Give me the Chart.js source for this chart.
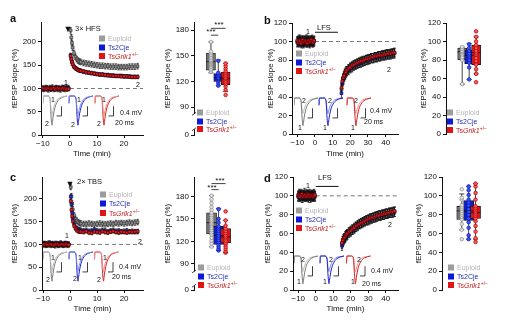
<!DOCTYPE html>
<html>
<head>
<meta charset="utf-8">
<script src="https://cdn.jsdelivr.net/npm/chart.js@4.4.1/dist/chart.umd.min.js"></script>
<style>
body{margin:0;background:#fff;width:512px;height:324px;position:relative;overflow:hidden;font-family:"Liberation Sans",Arial,sans-serif;color:#111}
canvas{position:absolute}
.t{position:absolute;white-space:nowrap;font-size:7px;line-height:1;transform:translateY(-50%)}
.c{transform:translate(-50%,-50%)}
.lt{position:absolute;font-size:11px;font-weight:bold;line-height:1;transform:translateY(-50%)}
.lg{position:absolute;white-space:nowrap;font-size:7px;line-height:1;transform:translateY(-50%);display:flex;align-items:center}
.lg b{display:inline-block;width:6px;height:6px;margin-right:3px}
.e{color:#b4b4b4}.s{color:#2430b4}.g{color:#c41d1d}
sup{font-size:5px;vertical-align:3px}
</style>
</head>
<body>
<canvas id="tcA" width="150" height="165" style="left:0;top:0"></canvas>
<canvas id="bxA" width="100" height="165" style="left:150px;top:0"></canvas>
<canvas id="tcB" width="150" height="165" style="left:256px;top:0"></canvas>
<canvas id="bxB" width="100" height="165" style="left:400px;top:0"></canvas>
<canvas id="tcC" width="150" height="165" style="left:0;top:155px"></canvas>
<canvas id="bxC" width="100" height="165" style="left:150px;top:155px"></canvas>
<canvas id="tcD" width="150" height="165" style="left:256px;top:155px"></canvas>
<canvas id="bxD" width="104" height="165" style="left:396px;top:155px"></canvas>
<canvas id="inA" width="100" height="40" style="left:43px;top:92px"></canvas>
<canvas id="inB" width="110" height="40" style="left:294px;top:94px"></canvas>
<canvas id="inC" width="100" height="40" style="left:43px;top:248px"></canvas>
<canvas id="inD" width="110" height="40" style="left:294px;top:252px"></canvas>

<div class="lt" style="left:10px;top:18px">a</div>
<div class="lt" style="left:264px;top:20px">b</div>
<div class="lt" style="left:10px;top:177px">c</div>
<div class="lt" style="left:264px;top:178px">d</div>

<!-- annotations -->
<div class="t c" style="left:68px;top:29px;font-size:9px">▼</div>
<div class="t" style="left:75px;top:29px;font-size:7.5px">3× HFS</div>
<div class="t c" style="left:70px;top:184px;font-size:9px">▼</div>
<div class="t" style="left:77px;top:182px;font-size:7.5px">2× TBS</div>
<div class="t c" style="left:324px;top:28px;font-size:7.5px">LFS</div>
<div class="t c" style="left:325px;top:178px;font-size:7.5px">LFS</div>

<div class="t c" style="left:219px;top:25px;font-size:8px">***</div>
<div class="t c" style="left:211px;top:32px;font-size:8px">***</div>
<div class="t c" style="left:220px;top:181px;font-size:8px">***</div>
<div class="t c" style="left:212px;top:188px;font-size:8px">***</div>

<!-- time course 1/2 labels -->
<div class="t c" style="left:66px;top:82px">1</div>
<div class="t c" style="left:138px;top:84px">2</div>
<div class="t c" style="left:308px;top:31px">1</div>
<div class="t c" style="left:389px;top:69px">2</div>
<div class="t c" style="left:67px;top:235px">1</div>
<div class="t c" style="left:140px;top:241px">2</div>
<div class="t c" style="left:308px;top:185px">1</div>
<div class="t c" style="left:390px;top:224px">2</div>

<!-- trace labels -->
<div class="t c" style="left:53px;top:99px">1</div><div class="t c" style="left:47px;top:123px">2</div>
<div class="t c" style="left:79px;top:99px">1</div><div class="t c" style="left:73px;top:124px">2</div>
<div class="t c" style="left:104px;top:99px">1</div><div class="t c" style="left:99px;top:123px">2</div>
<div class="t" style="left:120px;top:112px">0.4 mV</div>
<div class="t" style="left:115px;top:122px">20 ms</div>

<div class="t c" style="left:304px;top:100px">2</div><div class="t c" style="left:300px;top:127px">1</div>
<div class="t c" style="left:330px;top:100px">2</div><div class="t c" style="left:325px;top:127px">1</div>
<div class="t c" style="left:356px;top:100px">2</div><div class="t c" style="left:353px;top:127px">1</div>
<div class="t" style="left:370px;top:110px">0.4 mV</div>
<div class="t" style="left:364px;top:121px">20 ms</div>

<div class="t c" style="left:53px;top:257px">1</div><div class="t c" style="left:48px;top:279px">2</div>
<div class="t c" style="left:80px;top:257px">1</div><div class="t c" style="left:75px;top:278px">2</div>
<div class="t c" style="left:105px;top:257px">1</div><div class="t c" style="left:99px;top:279px">2</div>
<div class="t" style="left:119px;top:266px">0.4 mV</div>
<div class="t" style="left:112px;top:276px">20 ms</div>

<div class="t c" style="left:303px;top:259px">2</div><div class="t c" style="left:299px;top:281px">1</div>
<div class="t c" style="left:331px;top:259px">2</div><div class="t c" style="left:325px;top:281px">1</div>
<div class="t c" style="left:359px;top:259px">2</div><div class="t c" style="left:353px;top:281px">1</div>
<div class="t" style="left:371px;top:270px">0.4 mV</div>
<div class="t" style="left:362px;top:283px">20 ms</div>

<!-- legends -->
<div class="lg" style="left:99px;top:38px"><b style="background:#9c9c9c"></b><span class="e">Euploid</span></div>
<div class="lg" style="left:99px;top:47px"><b style="background:#0d18d8"></b><span class="s">Ts2Cje</span></div>
<div class="lg" style="left:99px;top:56px"><b style="background:#e01414"></b><span class="g">Ts<i>Grik1</i><sup>+/−</sup></span></div>

<div class="lg" style="left:197px;top:112px"><b style="background:#9c9c9c"></b><span class="e">Euploid</span></div>
<div class="lg" style="left:197px;top:121px"><b style="background:#0d18d8"></b><span class="s">Ts2Cje</span></div>
<div class="lg" style="left:197px;top:129px"><b style="background:#e01414"></b><span class="g">Ts<i>Grik1</i><sup>+/−</sup></span></div>

<div class="lg" style="left:296px;top:53px"><b style="background:#9c9c9c"></b><span class="e">Euploid</span></div>
<div class="lg" style="left:296px;top:62px"><b style="background:#0d18d8"></b><span class="s">Ts2Cje</span></div>
<div class="lg" style="left:296px;top:71px"><b style="background:#e01414"></b><span class="g">Ts<i>Grik1</i><sup>+/−</sup></span></div>

<div class="lg" style="left:447px;top:112px"><b style="background:#9c9c9c"></b><span class="e">Euploid</span></div>
<div class="lg" style="left:447px;top:121px"><b style="background:#0d18d8"></b><span class="s">Ts2Cje</span></div>
<div class="lg" style="left:447px;top:130px"><b style="background:#e01414"></b><span class="g">Ts<i>Grik1</i><sup>+/−</sup></span></div>

<div class="lg" style="left:100px;top:194px"><b style="background:#9c9c9c"></b><span class="e">Euploid</span></div>
<div class="lg" style="left:100px;top:203px"><b style="background:#0d18d8"></b><span class="s">Ts2Cje</span></div>
<div class="lg" style="left:100px;top:213px"><b style="background:#e01414"></b><span class="g">Ts<i>Grik1</i><sup>+/−</sup></span></div>

<div class="lg" style="left:198px;top:267px"><b style="background:#9c9c9c"></b><span class="e">Euploid</span></div>
<div class="lg" style="left:198px;top:276px"><b style="background:#0d18d8"></b><span class="s">Ts2Cje</span></div>
<div class="lg" style="left:198px;top:285px"><b style="background:#e01414"></b><span class="g">Ts<i>Grik1</i><sup>+/−</sup></span></div>

<div class="lg" style="left:296px;top:210px"><b style="background:#9c9c9c"></b><span class="e">Euploid</span></div>
<div class="lg" style="left:296px;top:219px"><b style="background:#0d18d8"></b><span class="s">Ts2Cje</span></div>
<div class="lg" style="left:296px;top:228px"><b style="background:#e01414"></b><span class="g">Ts<i>Grik1</i><sup>+/−</sup></span></div>

<div class="lg" style="left:448px;top:267px"><b style="background:#9c9c9c"></b><span class="e">Euploid</span></div>
<div class="lg" style="left:448px;top:276px"><b style="background:#0d18d8"></b><span class="s">Ts2Cje</span></div>
<div class="lg" style="left:448px;top:285px"><b style="background:#e01414"></b><span class="g">Ts<i>Grik1</i><sup>+/−</sup></span></div>

<script>
// ---- time axes (min) ----
const timeLTP = [-10,-9.5,-9,-8.5,-8,-7.5,-7,-6.5,-6,-5.5,-5,-4.5,-4,-3.5,-3,-2.5,-2,-1.5,-1,-0.5,
  0.25,0.5,0.75,1,1.5,2,2.5,3,3.5,4,5,6,7,8,9,10,11,12,13,14,15,16,17,18,19,20,21,22,23,24,25];
const timeLTD = [-10,-9.5,-9,-8.5,-8,-7.5,-7,-6.5,-6,-5.5,-5,-4.5,-4,-3.5,-3,-2.5,-2,-1.5,-1,-0.5,
  15,15.5,16,16.5,17,17.5,18,19,20,21,22,23,24,25,26,27,28,29,30,31,32,33,34,35,36,37,38,39,40,41,42,43,44,45];

// ---- panel a: 3x HFS (fEPSP slope %) ----
const euploidA = [100,99,101,100,98,101,100,102,99,100,101,99,100,98,101,100,99,102,100,101,
  225,210,198,188,176,168,163,160,158,157,155,154,153,152,151,150,149,149,148,148,147,147,147,146,146,146,146,147,147,147,148];
const ts2cjeA = [99,101,100,102,99,100,98,101,100,99,102,100,101,99,100,103,100,99,101,100,
  172,164,158,153,147,144,142,140,139,138,136,135,134,133,132,131,130,130,129,129,128,128,127,127,127,126,126,126,125,125,125];
const tsgrikA = [101,99,100,99,101,100,99,100,101,98,100,101,99,100,99,101,100,98,100,99,
  170,163,157,152,147,144,142,140,139,138,137,135,134,133,132,131,130,130,129,128,128,127,127,127,126,126,126,125,125,125,125];
const semA = [6, 4, 3];

// ---- panel b: LFS ----
const euploidB = [100,101,99,102,100,98,101,100,99,101,102,100,99,101,98,100,101,99,100,101,
  48,56,60,63,65,67,68,70,72,73,74,75,76,77,78,79,79,80,81,81,82,82,83,83,84,84,85,85,85,86,86,86,87,87];
const ts2cjeB = [99,100,102,100,101,99,100,98,101,100,99,102,101,100,99,101,100,102,99,100,
  44,54,59,62,64,66,68,69,71,72,74,75,76,77,77,78,79,80,80,81,82,82,83,83,84,84,85,85,86,86,86,87,87,88];
const tsgrikB = [101,99,100,101,98,100,102,99,100,101,100,98,100,101,99,100,102,100,99,101,
  50,57,61,63,66,67,69,71,72,74,75,76,77,78,79,79,80,81,81,82,83,83,84,84,85,85,85,86,86,87,87,87,88,88];
const semB = [5, 5, 4];

// ---- panel c: 2x TBS ----
const euploidC = [101,100,99,100,102,100,99,101,100,98,101,100,99,101,100,99,100,101,99,100,
  226,206,190,177,164,156,152,149,147,146,145,145,146,145,144,145,146,145,144,145,146,145,147,146,147,146,147,148,147,148,149];
const ts2cjeC = [100,102,101,99,100,103,101,100,99,102,100,98,101,103,100,99,102,100,101,100,
  205,188,170,157,145,138,135,133,132,131,130,131,129,130,132,130,129,131,130,128,130,131,129,130,128,129,130,128,129,128,128];
const tsgrikC = [99,100,101,100,99,101,100,99,98,100,101,100,99,100,101,100,99,101,100,99,
  195,176,162,151,141,135,131,129,128,128,127,129,126,125,128,127,126,129,127,126,128,129,127,126,128,127,126,128,127,128,129];
const semC = [6, 5, 4];

// ---- panel d: LFS ----
const euploidD = [100,102,99,101,100,98,101,103,100,99,101,100,98,102,100,99,101,100,102,99,
  49,52,54,55,57,58,59,61,63,64,66,67,69,70,71,72,73,74,75,76,76,77,78,78,79,79,80,80,81,81,82,82,83,83];
const ts2cjeD = [99,101,100,102,98,100,101,99,100,102,100,99,101,100,98,101,100,99,101,100,
  47,51,53,55,56,58,59,61,62,64,65,67,68,70,71,72,73,74,74,75,76,77,77,78,79,79,80,80,81,81,82,82,82,83];
const tsgrikD = [101,100,99,101,102,100,99,100,101,99,100,102,101,99,100,101,100,99,100,101,
  50,53,55,56,58,59,60,62,63,65,66,68,69,70,71,72,73,74,75,76,77,77,78,79,79,80,80,81,81,82,82,83,83,84];
const semD = [5, 5, 4];

// ---- box plots: quartiles, whiskers, individual slices ----
const q1A = [133, 120, 116], medA = [143, 124, 123], q3A = [153, 129, 131], loA = [130, 115, 108], hiA = [166, 145, 141];
const ptsA = [[131,133,135,137,139,140,141,142,143,144,145,147,149,151,153,155,166],
  [115,118,121,123,124,126,128,130,144],
  [104,110,114,117,119,121,123,124,126,128,130,132,135,138,141]];
const q1B = [80, 76, 75], medB = [89, 85, 88], q3B = [93, 91, 96], loB = [54, 59, 65], hiB = [94, 98, 105];
const ptsB = [[54,80,83,86,88,89,90,92,94],
  [59,72,77,80,83,85,87,90,93,97],
  [56,65,70,75,79,82,86,88,90,93,96,100,105,111]];
const q1C = [130, 116, 118], medC = [145, 128, 126], q3C = [158, 140, 137], loC = [113, 108, 105], hiC = [181, 164, 148];
const ptsC = [[113,117,121,125,129,132,135,138,141,143,145,147,149,152,155,158,162,166,171,176,181],
  [108,110,113,116,119,122,125,128,131,134,137,140,145,150,163],
  [105,107,110,113,116,118,121,124,126,128,131,134,137,141,148,160]];
const q1D = [75, 74, 76], medD = [84, 84, 82], q3D = [89, 95, 89], loD = [64, 54, 54], hiD = [102, 110, 113];
const ptsD = [[54,64,70,75,78,80,82,84,86,88,90,96,98,107],
  [54,58,66,72,76,80,83,86,90,93,96,101,106,110],
  [51,55,62,68,73,76,79,81,83,85,87,89,96,103,110,113]];
const sigA = [[1, 2, 174], [1, 3, 182]];
const sigC = [[1, 2, 189], [1, 3, 197]];

// ---- example fEPSP traces (ms, mV) ----
const traceMs = [0, 1.5, 3, 20, 28, 31, 34, 36, 38, 41, 45, 50, 56, 63, 72, 84, 96];
const ltpTrace1 = [-0.3,0,0,0,-0.08,-0.4,-0.72,-0.8,-0.7,-0.55,-0.4,-0.27,-0.17,-0.1,-0.05,-0.02,0];
const ltpTrace2 = [-0.3,0,0,0,-0.12,-0.65,-1.08,-1.2,-1.05,-0.82,-0.6,-0.4,-0.26,-0.15,-0.08,-0.03,0];
const ltdTrace1 = [-0.3,0,0,0,-0.12,-0.62,-1.02,-1.14,-1.0,-0.78,-0.57,-0.38,-0.25,-0.15,-0.08,-0.03,0];
const ltdTrace2 = [-0.3,0,0,0,-0.08,-0.36,-0.58,-0.64,-0.56,-0.44,-0.32,-0.22,-0.14,-0.08,-0.04,-0.02,0];

// Styles
const FONT = '"Liberation Sans", Arial, sans-serif';
const tickFont = {family: FONT, size: 8};
const markFill = ['#8e8e8e', '#1f2fd6', '#e02020'];
const markEdge = ['#2a2a2a', '#0b0b60', '#4a0000'];
const boxFill = ['#707070', '#1020c8', '#d81818'];
const dotFill = ['#e2e2e2', '#3a55ff', '#ff5a5a'];
const dotEdge = ['#8a8a8a', '#0a14a0', '#a80000'];
const traceDark = ['#777777', '#1a22c8', '#d41e1e'];
const traceLight = ['#bdbdbd', '#8088e6', '#ee8e8e'];

const fmt = v => v < 0 ? '\u2212' + (-v) : String(v);

function yAxis(o) {
  return {
    min: o.ymin, max: o.ymax,
    afterFit: s => { s.width = o.yw; },
    afterBuildTicks: s => { s.ticks = o.yticks.map(v => ({value: v})); },
    ticks: {font: tickFont, color: '#111', padding: 2, autoSkip: false, callback: o.ylab || fmt},
    grid: {drawOnChartArea: false, tickLength: 3, color: '#111'},
    border: {color: '#111', width: 1},
    title: {display: true, text: 'fEPSP slope (%)', font: tickFont, color: '#111', padding: {top: o.tp, bottom: 0}}
  };
}

// error bars drawn just before each series
const errorBars = {
  id: 'errorBars',
  beforeDatasetDraw(chart, args) {
    const ds = chart.data.datasets[args.index];
    if (ds.sem == null) return;
    const y = chart.scales.y, ctx = chart.ctx;
    ctx.save();
    ctx.strokeStyle = '#111'; ctx.lineWidth = 0.7;
    ctx.beginPath();
    args.meta.data.forEach((el, k) => {
      const v = ds.data[k].y;
      const a = y.getPixelForValue(v + ds.sem), b = y.getPixelForValue(v - ds.sem);
      ctx.moveTo(el.x, a); ctx.lineTo(el.x, b);
      ctx.moveTo(el.x - 1.2, a); ctx.lineTo(el.x + 1.2, a);
      ctx.moveTo(el.x - 1.2, b); ctx.lineTo(el.x + 1.2, b);
    });
    ctx.stroke(); ctx.restore();
  }
};

function timeCourse(id, times, series, sem, o) {
  const extras = {
    id: 'extras',
    beforeDatasetsDraw(chart) {
      const {x, y} = chart.scales, ctx = chart.ctx;
      ctx.save();
      ctx.strokeStyle = '#777'; ctx.lineWidth = 1; ctx.setLineDash([4, 3]);
      ctx.beginPath();
      ctx.moveTo(x.getPixelForValue(0), y.getPixelForValue(100));
      ctx.lineTo(x.getPixelForValue(o.xmax), y.getPixelForValue(100));
      ctx.stroke();
      if (o.lfs) {
        ctx.setLineDash([]); ctx.strokeStyle = '#111';
        ctx.beginPath();
        ctx.moveTo(x.getPixelForValue(o.lfs[0]), y.getPixelForValue(o.lfs[2]));
        ctx.lineTo(x.getPixelForValue(o.lfs[1]), y.getPixelForValue(o.lfs[2]));
        ctx.stroke();
      }
      ctx.restore();
    }
  };
  new Chart(document.getElementById(id), {
    type: 'scatter',
    data: {datasets: series.map((vals, i) => ({
      data: times.map((t, k) => ({x: t, y: vals[k]})),
      pointStyle: 'rect', pointRadius: 2, borderWidth: 0.6,
      backgroundColor: markFill[i], borderColor: markEdge[i],
      order: 3 - i, sem: sem[i]
    }))},
    options: {
      animation: false, responsive: false, events: [],
      layout: {padding: {top: o.top, right: o.right, left: 0, bottom: 0}},
      plugins: {legend: {display: false}, tooltip: {enabled: false}},
      scales: {
        x: {
          type: 'linear', min: o.xmin, max: o.xmax,
          afterFit: s => { s.height = o.xh; },
          afterBuildTicks: s => { s.ticks = o.xticks.map(v => ({value: v})); },
          ticks: {font: tickFont, color: '#111', padding: 1, autoSkip: false, maxRotation: 0, callback: fmt},
          grid: {drawOnChartArea: false, tickLength: 3, color: '#111'},
          border: {color: '#111', width: 1},
          title: {display: true, text: 'Time (min)', font: tickFont, color: '#111', padding: {top: 0, bottom: o.xtp}}
        },
        y: yAxis(o)
      }
    },
    plugins: [errorBars, extras]
  });
}

function boxPlot(id, q1, med, q3, lo, hi, pts, o) {
  const extras = {
    id: 'boxExtras',
    afterDatasetDraw(chart, args) {
      if (args.index !== 0) return;
      const {x, y} = chart.scales, ctx = chart.ctx;
      ctx.save();
      ctx.strokeStyle = '#111'; ctx.lineWidth = 0.8;
      ctx.beginPath();
      q1.forEach((q, i) => {
        const cx = x.getPixelForValue(i + 1), hw = o.bw / 2;
        ctx.moveTo(cx, y.getPixelForValue(q3[i])); ctx.lineTo(cx, y.getPixelForValue(hi[i]));
        ctx.moveTo(cx, y.getPixelForValue(q)); ctx.lineTo(cx, y.getPixelForValue(lo[i]));
        ctx.moveTo(cx - 2.5, y.getPixelForValue(hi[i])); ctx.lineTo(cx + 2.5, y.getPixelForValue(hi[i]));
        ctx.moveTo(cx - 2.5, y.getPixelForValue(lo[i])); ctx.lineTo(cx + 2.5, y.getPixelForValue(lo[i]));
        ctx.moveTo(cx - hw, y.getPixelForValue(med[i])); ctx.lineTo(cx + hw, y.getPixelForValue(med[i]));
      });
      ctx.stroke(); ctx.restore();
    },
    afterDraw(chart) {
      const {x, y} = chart.scales, ctx = chart.ctx;
      ctx.save();
      ctx.strokeStyle = '#111'; ctx.lineWidth = 0.8;
      (o.sig || []).forEach(([g1, g2, v]) => {
        ctx.beginPath();
        ctx.moveTo(x.getPixelForValue(g1), y.getPixelForValue(v));
        ctx.lineTo(x.getPixelForValue(g2), y.getPixelForValue(v));
        ctx.stroke();
      });
      if (o.brk) {
        const ax = chart.chartArea.left;
        const t = y.getPixelForValue(o.brk[0]), b = y.getPixelForValue(o.brk[1]);
        ctx.fillStyle = '#fff';
        ctx.fillRect(ax - 2, t, 4, b - t);
        ctx.beginPath();
        ctx.moveTo(ax - 2, t + 1.5); ctx.lineTo(ax + 2, t - 1.5);
        ctx.moveTo(ax - 2, b + 1.5); ctx.lineTo(ax + 2, b - 1.5);
        ctx.stroke();
      }
      ctx.restore();
    }
  };
  const datasets = [{
    type: 'bar',
    data: q1.map((q, i) => ({x: i + 1, y: [q, q3[i]]})),
    backgroundColor: boxFill, borderColor: '#111', borderWidth: 0.8, borderSkipped: false,
    barThickness: o.bw, order: 2
  }].concat(pts.map((p, i) => ({
    type: 'scatter',
    data: p.map(v => ({x: i + 1, y: v})),
    pointRadius: 1.8, borderWidth: 0.7,
    backgroundColor: dotFill[i], borderColor: dotEdge[i], order: 1
  })));
  new Chart(document.getElementById(id), {
    type: 'bar',
    data: {datasets},
    options: {
      animation: false, responsive: false, events: [],
      layout: {padding: {top: o.top, bottom: o.bottom, left: 0, right: 0}},
      plugins: {legend: {display: false}, tooltip: {enabled: false}},
      scales: {
        x: {type: 'linear', min: o.xmin, max: o.xmax, display: false},
        y: yAxis(o)
      }
    },
    plugins: [extras]
  });
}

function insetTraces(id, t1, t2, offs, o) {
  const datasets = [];
  offs.forEach((off, i) => {
    datasets.push({data: traceMs.map((t, k) => ({x: t + off, y: t1[k]})), borderColor: o.ltd ? traceDark[i] : traceLight[i]});
    datasets.push({data: traceMs.map((t, k) => ({x: t + off, y: t2[k]})), borderColor: o.ltd ? traceLight[i] : traceDark[i]});
  });
  datasets.forEach(d => { d.borderWidth = 1; d.pointRadius = 0; d.cubicInterpolationMode = 'monotone'; d.clip = false; });
  const bars = {
    id: 'scaleBars',
    afterDatasetsDraw(chart) {
      const {x, y} = chart.scales, ctx = chart.ctx;
      ctx.save(); ctx.strokeStyle = '#111'; ctx.lineWidth = 0.8;
      offs.forEach(off => {
        const xr = x.getPixelForValue(off + 74), xl = x.getPixelForValue(off + 54);
        const ya = y.getPixelForValue(-0.42), yb = y.getPixelForValue(-0.82);
        ctx.beginPath(); ctx.moveTo(xr, ya); ctx.lineTo(xr, yb); ctx.lineTo(xl, yb); ctx.stroke();
      });
      ctx.restore();
    }
  };
  new Chart(document.getElementById(id), {
    type: 'line',
    data: {datasets},
    options: {
      animation: false, responsive: false, events: [],
      layout: {padding: 0},
      plugins: {legend: {display: false}, tooltip: {enabled: false}},
      scales: {
        x: {type: 'linear', min: 0, max: o.xmax, display: false},
        y: {min: -1.48, max: 0.165, display: false}
      }
    },
    plugins: [bars]
  });
}

timeCourse('tcA', timeLTP, [euploidA, ts2cjeA, tsgrikA], semA,
  {xmin: -10.7, xmax: 27, xticks: [-10, 0, 10, 20], ymin: 0, ymax: 243, yticks: [0, 50, 100, 150, 200],
   yw: 41, xh: 30, top: 22, right: 7, tp: 10, xtp: 6.5});
timeCourse('tcB', timeLTD, [euploidB, ts2cjeB, tsgrikB], semB,
  {xmin: -13, xmax: 47, xticks: [-10, 0, 10, 20, 30, 40], ymin: 0, ymax: 120, yticks: [0, 20, 40, 60, 80, 100, 120],
   yw: 36, xh: 31, top: 23, right: 8, tp: 10, xtp: 6.2, lfs: [0, 13, 110]});
timeCourse('tcC', timeLTP, [euploidC, ts2cjeC, tsgrikC], semC,
  {xmin: -10.4, xmax: 27, xticks: [-10, 0, 10, 20], ymin: 0, ymax: 248, yticks: [0, 50, 100, 150, 200],
   yw: 42, xh: 30, top: 22, right: 7, tp: 10, xtp: 6.5});
timeCourse('tcD', timeLTD, [euploidD, ts2cjeD, tsgrikD], semD,
  {xmin: -13, xmax: 47, xticks: [-10, 0, 10, 20, 30, 40], ymin: 0, ymax: 120, yticks: [0, 20, 40, 60, 80, 100, 120],
   yw: 37, xh: 30, top: 22, right: 8, tp: 7, xtp: 6.5, lfs: [0, 13, 110]});

boxPlot('bxA', q1A, medA, q3A, loA, hiA, ptsA,
  {xmin: 0.4375, xmax: 3.9375, bw: 9, ymin: 57.3, ymax: 189.4, yticks: [57.3, 90, 120, 150, 180],
   ylab: v => v === 57.3 ? '0' : String(v), yw: 44, top: 22, bottom: 30, tp: 13, sig: sigA, brk: [82, 64]});
boxPlot('bxB', q1B, medB, q3B, loB, hiB, ptsB,
  {xmin: 0.443, xmax: 3.984, bw: 9, ymin: 0, ymax: 120, yticks: [0, 20, 40, 60, 80, 100, 120],
   yw: 46, top: 23, bottom: 31, tp: 19});
boxPlot('bxC', q1C, medC, q3C, loC, hiC, ptsC,
  {xmin: 0.329, xmax: 3.977, bw: 10, ymin: 55.3, ymax: 205.8, yticks: [55.3, 90, 120, 150, 180],
   ylab: v => v === 55.3 ? '0' : String(v), yw: 44, top: 22, bottom: 30, tp: 13, sig: sigC, brk: [80, 61]});
boxPlot('bxD', q1D, medD, q3D, loD, hiD, ptsD,
  {xmin: 0.0667, xmax: 3.933, bw: 10, ymin: 0, ymax: 120, yticks: [0, 20, 40, 60, 80, 100, 120],
   yw: 46, top: 22, bottom: 30, tp: 18});

insetTraces('inA', ltpTrace1, ltpTrace2, [0, 104, 208], {xmax: 400});
insetTraces('inB', ltdTrace1, ltdTrace2, [0, 100, 212], {xmax: 440, ltd: true});
insetTraces('inC', ltpTrace1, ltpTrace2, [0, 104, 206], {xmax: 400});
insetTraces('inD', ltdTrace1, ltdTrace2, [0, 104, 210], {xmax: 440, ltd: true});
</script>
</body>
</html>
